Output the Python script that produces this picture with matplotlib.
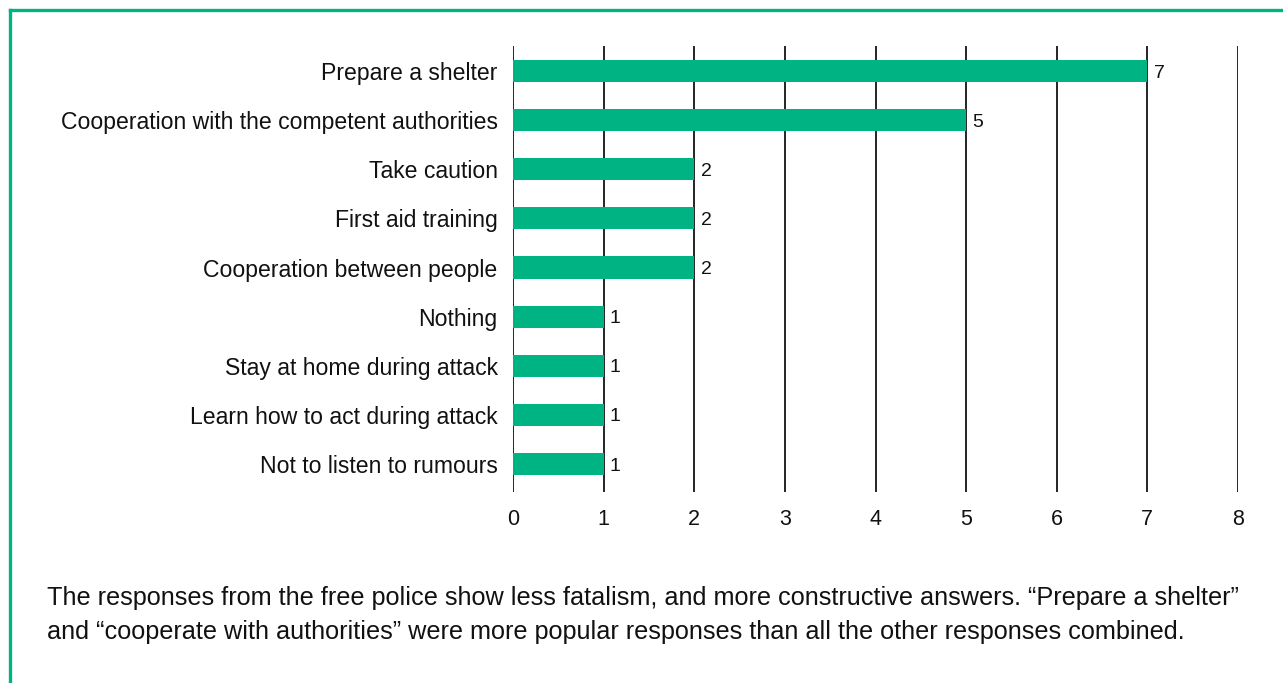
import matplotlib
matplotlib.use("Agg")
import matplotlib.pyplot as plt
from matplotlib.lines import Line2D

plt.rcParams["font.family"] = ["Liberation Sans", "DejaVu Sans"]

categories = [
    "Prepare a shelter",
    "Cooperation with the competent authorities",
    "Take caution",
    "First aid training",
    "Cooperation between people",
    "Nothing",
    "Stay at home during attack",
    "Learn how to act during attack",
    "Not to listen to rumours",
]
counts = [7, 5, 2, 2, 2, 1, 1, 1, 1]
x_ticks = list(range(0, 9))

caption_lines = [
    "The responses from the free police show less fatalism, and more constructive answers. \u201cPrepare a shelter\u201d",
    "and \u201ccooperate with authorities\u201d were more popular responses than all the other responses combined.",
]

GREEN = "#00b383"
W, H = 1283, 683

fig = plt.figure(figsize=(W / 100, H / 100), dpi=100)
ax = fig.add_axes([513 / W, 1 - 492 / H, (1238 - 513) / W, (492 - 46) / H])

y = list(range(len(categories)))
ax.barh(y, counts, height=0.45, color=GREEN, zorder=3)
for yi, v in zip(y, counts):
    ax.text(v + 0.07, yi, str(v), va="center_baseline", ha="left", fontsize=14, color="#111111")

ax.set_xlim(0, 8)
ax.set_ylim(8.57, -0.51)
ax.set_xticks(x_ticks)
ax.set_yticks(y)
ax.set_yticklabels(categories, fontsize=16.6, color="#111111")
ax.tick_params(axis="x", labelsize=15.5, labelcolor="#111111", length=0, pad=12)
ax.tick_params(axis="y", length=0, pad=11)
ax.grid(axis="x", color="black", linewidth=1.2, zorder=1)
for s in ax.spines.values():
    s.set_visible(False)

for ypx, line in zip([598, 632], caption_lines):
    fig.text(47 / W, 1 - ypx / H, line, fontsize=18.2, va="center", ha="left", color="#111111")

# green frame along the top and left edges
fig.add_artist(Line2D([10 / W, 10 / W], [1 - 10 / H, 0], color=GREEN, linewidth=2.4,
                      transform=fig.transFigure))
fig.add_artist(Line2D([10 / W, 1], [1 - 10 / H, 1 - 10 / H], color=GREEN, linewidth=2.4,
                      transform=fig.transFigure))

fig.savefig("out.png", dpi=100)
